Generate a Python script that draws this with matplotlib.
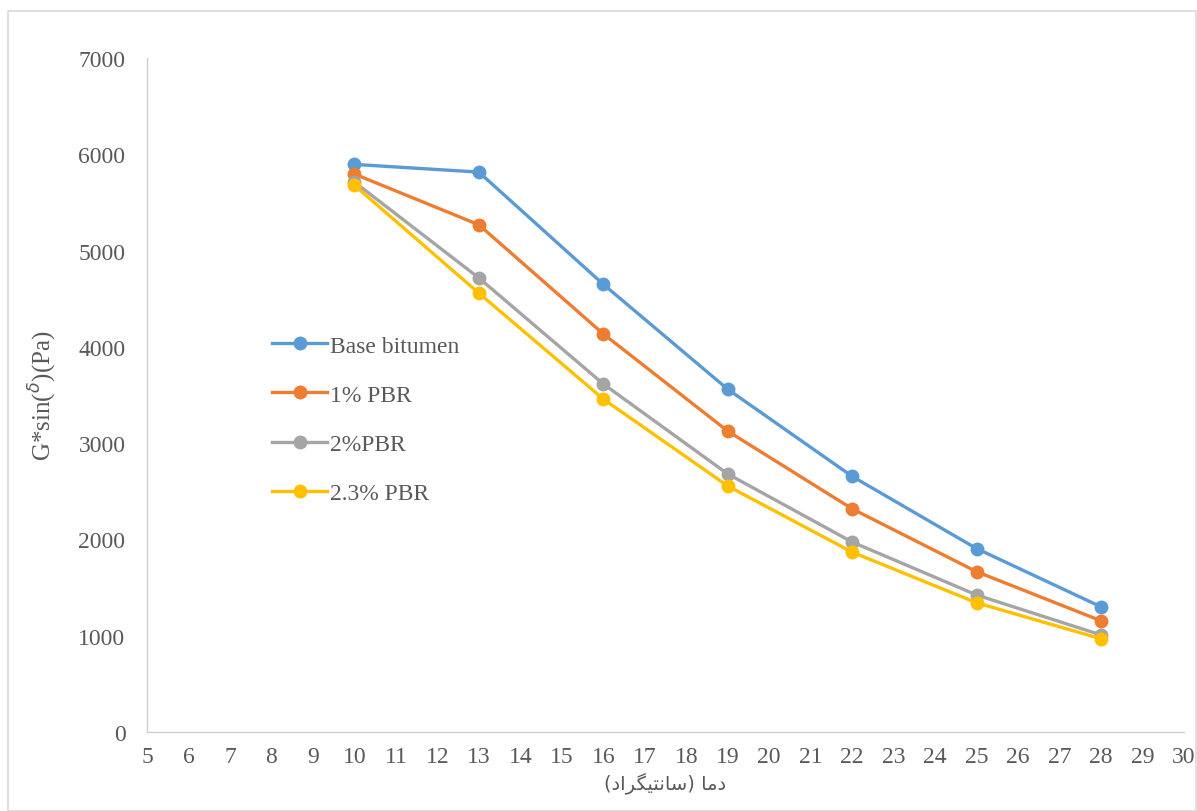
import matplotlib
matplotlib.use("Agg")
import matplotlib.pyplot as plt
from matplotlib.patches import Rectangle

# Test temperatures (°C) and G*sin(delta) values (Pa)
temperature = [10, 13, 16, 19, 22, 25, 28]
base_bitumen = [5895, 5815, 4650, 3560, 2655, 1905, 1300]
pbr_1 = [5795, 5268, 4135, 3125, 2318, 1665, 1155]
pbr_2 = [5712, 4716, 3615, 2680, 1973, 1423, 1008]
pbr_2_3 = [5678, 4558, 3458, 2555, 1868, 1342, 968]

series_labels = ["Base bitumen", "1% PBR", "2%PBR", "2.3% PBR"]
series_colors = ["#5B9BD5", "#ED7D31", "#A5A5A5", "#FFC000"]

x_ticks = list(range(5, 31))
y_ticks = list(range(0, 7001, 1000))

# Persian axis title, pre-shaped (presentation forms, visual order)
x_title = ("(" + "\uFEA9\uFE8D\uFEAE\uFB95\uFBFF\uFE98\uFEE7\uFE8E\uFEB3" + ")"
           + " " + "\uFE8E\uFEE3\uFEA9")

text_color = "#595959"
serif = ["Liberation Serif", "DejaVu Serif"]

fig = plt.figure(figsize=(11.97, 8.12), dpi=100)
ax = fig.add_axes([147 / 1197, 1 - 733 / 812, (1184 - 147) / 1197, (733 - 59) / 812])

for vals, lab, col in zip([base_bitumen, pbr_1, pbr_2, pbr_2_3], series_labels, series_colors):
    ax.plot(temperature, vals, color=col, lw=2.4, marker="o", ms=10,
            markeredgewidth=0, label=lab, solid_joinstyle="round")

ax.set_xlim(5, 30)
ax.set_ylim(0, 7000)
ax.set_xticks(x_ticks)
ax.set_yticks(y_ticks)
ax.tick_params(length=0, labelsize=17, labelcolor=text_color)
ax.tick_params(axis="y", pad=15.5)
ax.tick_params(axis="x", pad=10)
for lbl in ax.get_xticklabels() + ax.get_yticklabels():
    lbl.set_family(serif)

for s in ["top", "right"]:
    ax.spines[s].set_visible(False)
for s in ["left", "bottom"]:
    ax.spines[s].set_color("#D0D0D0")
    ax.spines[s].set_linewidth(1.0)

ax.set_ylabel(r"G*sin($^{\delta}$)(Pa)", fontsize=18, color=text_color,
              family=serif, labelpad=14)
ax.set_xlabel(x_title, fontsize=14, color=text_color,
              family=["DejaVu Sans"], labelpad=4)

leg = ax.legend(loc="upper left", bbox_to_anchor=((272 - 147) / 1037, (733 - 336) / 674),
                frameon=False, fontsize=17, handlelength=2.33, handletextpad=0.13,
                labelspacing=1.17, borderpad=0, borderaxespad=0)
for t in leg.get_texts():
    t.set_color(text_color)
    t.set_family(serif)

# Light chart-area border
fig.patches.append(Rectangle((8 / 1197, 0), 1 - 9 / 1197, 1 - 12 / 812,
                             transform=fig.transFigure, fill=False,
                             edgecolor="#D9D9D9", lw=1.2))

fig.savefig("out.png", dpi=100)
